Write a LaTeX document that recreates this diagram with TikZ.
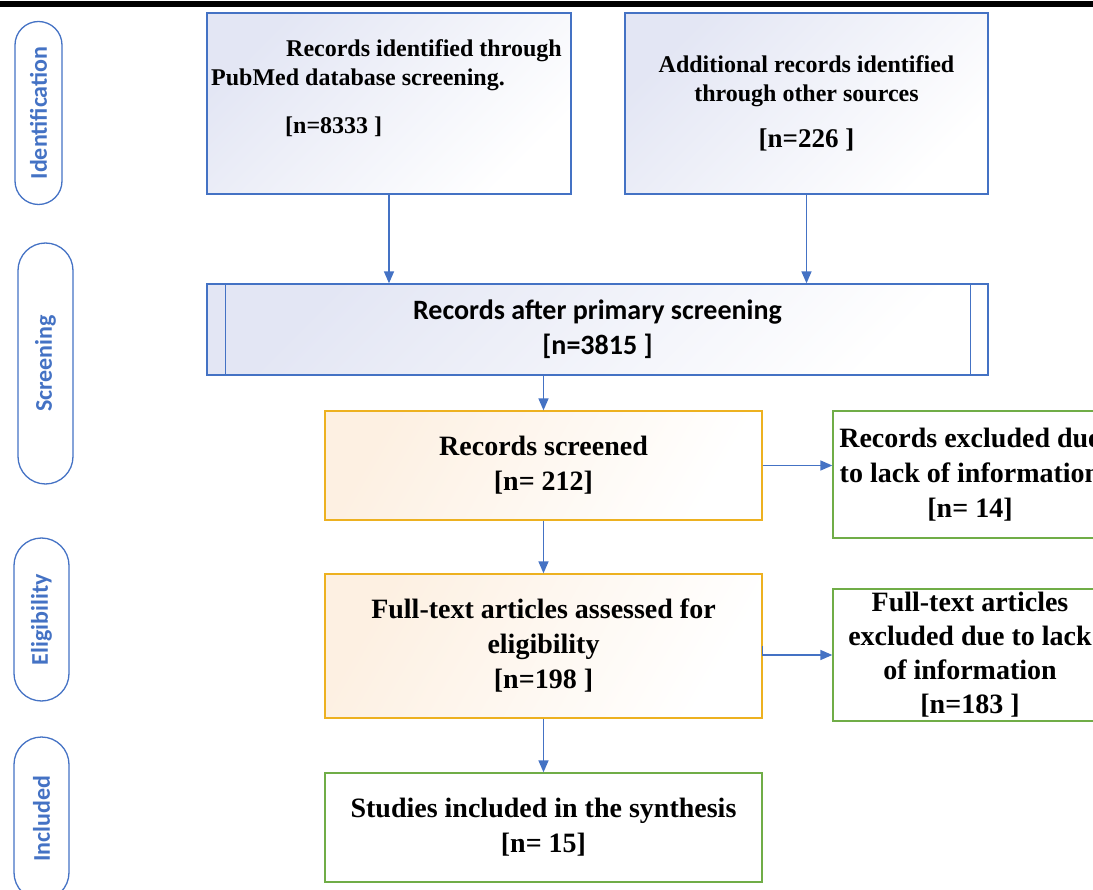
\documentclass[tikz,border=0pt]{standalone}
\usepackage{fontspec}
\setmainfont{Liberation Serif}
\newfontfamily\calibri{Carlito}
\usetikzlibrary{arrows.meta,calc}

\definecolor{prismablue}{HTML}{4472C4}
\definecolor{prismagold}{HTML}{EDB120}
\definecolor{prismagreen}{HTML}{70AD47}
\definecolor{lavender}{HTML}{E3E6F4}
\definecolor{peach}{HTML}{FDF0E2}

\newcommand\prismabig{\bfseries\fontsize{28}{35}\selectfont}
\newcommand\prismamid{\bfseries\fontsize{24}{29}\selectfont}

\tikzset{
  bluebox/.style={draw=prismablue, line width=1.3pt, top color=lavender, bottom color=white, shading angle=45, inner sep=0pt},
  goldbox/.style={draw=prismagold, line width=1.3pt, top color=peach, bottom color=white, shading angle=60, align=center, font=\prismabig},
  greenbox/.style={draw=prismagreen, line width=1.3pt, fill=white, align=center, font=\prismabig},
  pill/.style={draw=prismablue, line width=1.3pt, rotate=90, text=prismablue, font=\calibri\bfseries\fontsize{24}{28}\selectfont},
  flow/.style={draw=prismablue, line width=1.5pt, -{Triangle[length=12pt,width=10pt]}},
}

\begin{document}
\begin{tikzpicture}[x=1pt, y=-1pt]
    \useasboundingbox (0,0) rectangle (1093,890);
    \clip (0,0) rectangle (1093,890);
    \fill[black] (0,1) rectangle (1093,7);

    % phase labels
    \node[pill, minimum width=183, minimum height=47, rounded corners=23.5] at (38.5,113) (PIDENT) {Identification};
    \node[pill, minimum width=241, minimum height=55, rounded corners=27.5] at (45.5,363.5) (PSCREEN) {Screening};
    \node[pill, minimum width=163, minimum height=55, rounded corners=27.5] at (41.5,619.5) (PELIG) {Eligibility};
    \node[pill, minimum width=163, minimum height=55, rounded corners=27.5] at (41.5,818.5) (PINCL) {Included};

    % identification
    \node[bluebox, minimum width=364, minimum height=181] at (389,103.5) (PUBMED) {};
    \node[anchor=north west, align=left, inner sep=0pt, font=\prismamid] at (211,39) (PUBMEDTXT)
        {\hspace*{75pt}Records identified through\\PubMed database screening.\\[19pt]\hspace*{74pt}{[n=8333 ]}};
    \node[bluebox, minimum width=363, minimum height=181, align=center, font=\prismamid] at (806.5,103.5) (OTHER)
        {Additional records identified\\through other sources\\[17pt]{\fontsize{27}{32}\selectfont [n=226 ]}};

    % screening
    \node[bluebox, minimum width=781, minimum height=91, align=center, font=\calibri\bfseries\fontsize{28}{35}\selectfont] at (597.5,329.5) (PRIMARY)
        {Records after primary screening\\{[n=3815 ]}};
    \draw[prismablue, line width=1.3pt] ([xshift=19pt]PRIMARY.north west) -- ([xshift=19pt]PRIMARY.south west);
    \draw[prismablue, line width=1.3pt] ([xshift=-18pt]PRIMARY.north east) -- ([xshift=-18pt]PRIMARY.south east);

    \node[goldbox, minimum width=437, minimum height=109] at (543.5,465.5) (SCREENED) {Records screened\\{[n= 212]}};
    \node[greenbox, minimum width=274, minimum height=127] at (970,474.5) (EXCLA)
        {Records excluded due\\to lack of information\\{[n= 14]}};

    % eligibility
    \node[goldbox, minimum width=437, minimum height=144] at (543.5,646) (FULLTEXT)
        {Full-text articles assessed for\\eligibility\\{[n=198 ]}};
    \node[greenbox, minimum width=274, minimum height=126, font=\bfseries\fontsize{28}{34}\selectfont] at (970,655) (EXCLB)
        {Full-text articles\\excluded due to lack\\of information\\{[n=183 ]}};

    % included
    \node[greenbox, minimum width=437, minimum height=109] at (543.5,827.5) (STUDIES)
        {Studies included in the synthesis\\{[n= 15]}};

    % connectors
    \draw[flow] (PUBMED.south) -- (PUBMED.south |- PRIMARY.north);
    \draw[flow] (OTHER.south) -- (OTHER.south |- PRIMARY.north);
    \draw[flow] (PRIMARY.south -| SCREENED.north) -- (SCREENED.north);
    \draw[flow] (SCREENED.east) -- (SCREENED.east -| EXCLA.west);
    \draw[flow] (SCREENED.south) -- (FULLTEXT.north);
    \draw[flow] (FULLTEXT.east) |- (EXCLB.west);
    \draw[flow] (FULLTEXT.south) -- (STUDIES.north);
\end{tikzpicture}
\end{document}
